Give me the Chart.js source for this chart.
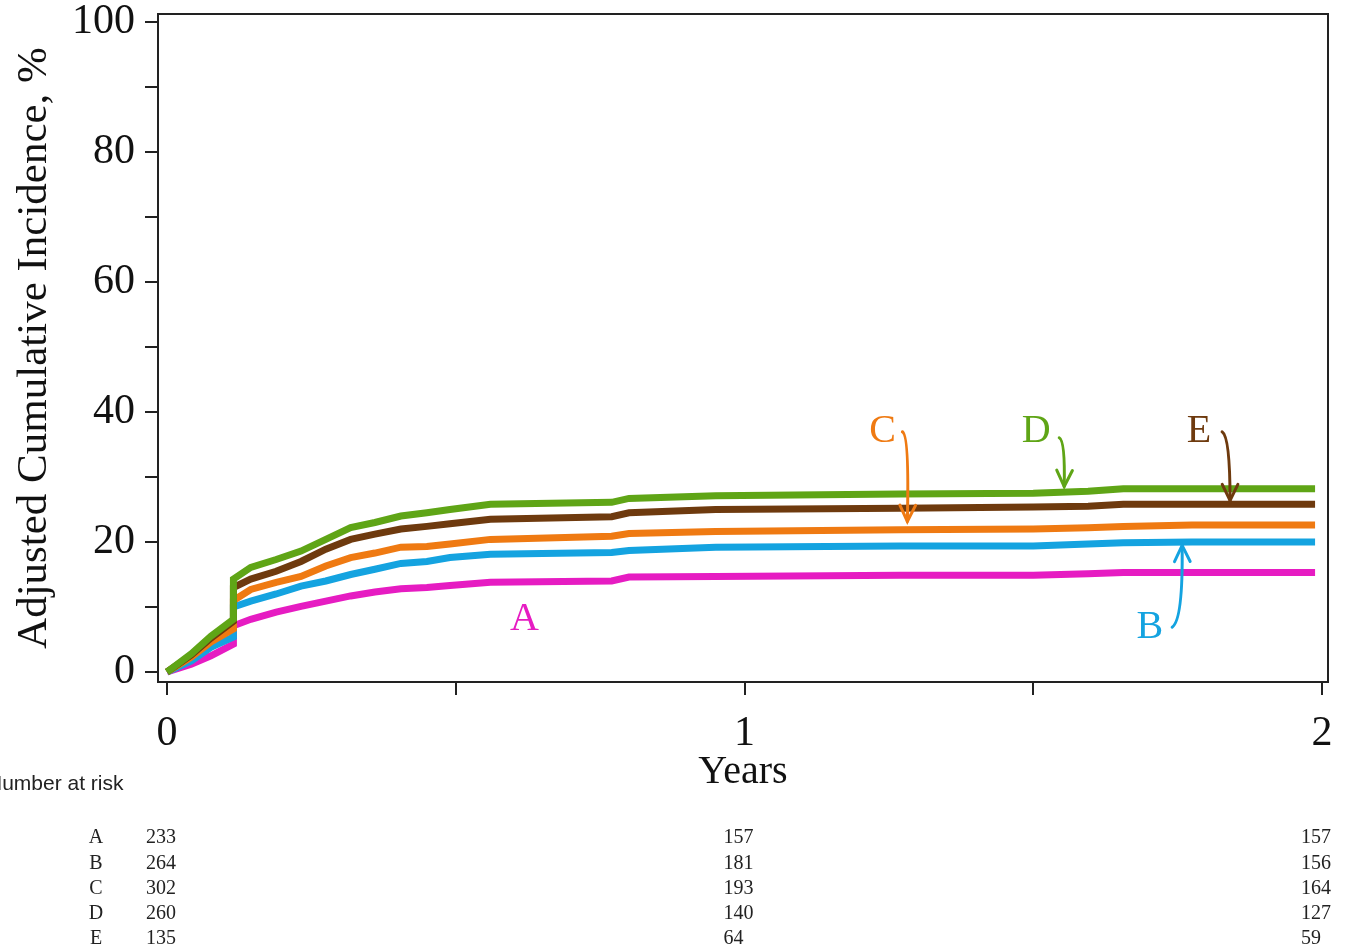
<!DOCTYPE html>
<html>
<head>
<meta charset="utf-8">
<script src="https://cdn.jsdelivr.net/npm/chart.js@4"></script>
<style>
  body { margin: 0; background: #fff; }
  canvas { display: block; }
</style>
</head>
<body>
<canvas id="myChart" width="1347" height="950"></canvas>
<script>
// Time points (years) shared by all curves
const years = [0, 0.042, 0.076, 0.115, 0.115, 0.145, 0.189, 0.232, 0.275, 0.318, 0.36, 0.405, 0.45, 0.49, 0.56, 0.77, 0.80, 0.95, 1.27, 1.50, 1.595, 1.656, 1.775, 1.988];

// Adjusted cumulative incidence, %
const seriesD = [0, 2.8, 5.5, 8.1, 14.3, 16.1, 17.3, 18.6, 20.4, 22.2, 23.0, 24.0, 24.5, 25.0, 25.8, 26.1, 26.7, 27.1, 27.4, 27.5, 27.8, 28.2, 28.2, 28.2];
const seriesE = [0, 2.6, 5.2, 7.8, 13.0, 14.3, 15.5, 17.0, 18.9, 20.4, 21.2, 22.0, 22.4, 22.8, 23.5, 23.9, 24.5, 25.0, 25.2, 25.4, 25.5, 25.8, 25.8, 25.8];
const seriesC = [0, 2.3, 4.6, 6.6, 11.0, 12.7, 13.8, 14.7, 16.3, 17.6, 18.3, 19.2, 19.3, 19.7, 20.4, 20.9, 21.3, 21.6, 21.9, 22.0, 22.2, 22.4, 22.6, 22.6];
const seriesB = [0, 1.7, 3.8, 5.4, 10.0, 10.9, 12.0, 13.2, 14.0, 15.0, 15.8, 16.7, 17.0, 17.6, 18.1, 18.4, 18.7, 19.2, 19.4, 19.4, 19.7, 19.9, 20.0, 20.0];
const seriesA = [0, 1.2, 2.5, 4.3, 7.1, 8.1, 9.2, 10.1, 10.9, 11.7, 12.3, 12.8, 13.0, 13.3, 13.8, 14.0, 14.6, 14.7, 14.9, 14.9, 15.1, 15.3, 15.3, 15.3];

const xTicks = [0, 0.5, 1, 1.5, 2];
const yTicks = [0, 10, 20, 30, 40, 50, 60, 70, 80, 90, 100];

// Curve labels (data coordinates)
const labelNames = ["A", "B", "C", "D", "E"];
const labelYears = [0.619, 1.702, 1.239, 1.505, 1.787];
const labelValues = [8.1, 6.9, 37.0, 37.0, 37.0];

// Arrows: start, bend, tip (data coordinates); null = no arrow
const arrowStart = [null, [1.7405, 6.9], [1.2734, 36.96], [1.545, 36.04], [1.827, 36.96]];
const arrowBend = [null, [1.7595, 7.98], [1.2855, 36.5], [1.5554, 35.58], [1.8408, 36.2]];
const arrowTip = [null, [1.7578, 19.48], [1.282, 23.16], [1.5536, 28.53], [1.8408, 26.38]];

// Number at risk
const riskYears = [0, 1, 2];
const riskA = [233, 157, 157];
const riskB = [264, 181, 156];
const riskC = [302, 193, 164];
const riskD = [260, 140, 127];
const riskE = [135, 64, 59];

const colors = { A: "#e61cc2", B: "#14a3e0", C: "#ef7a12", D: "#5fa516", E: "#6e3a0e" };

const toPoints = (vals) => vals.map((v, i) => ({ x: years[i], y: v }));

const serif = "'Liberation Serif', 'Times New Roman', serif";

const boxAndNotes = {
  id: "boxAndNotes",
  afterDraw(chart) {
    const { ctx, chartArea: a, scales } = chart;
    const x = scales.x, y = scales.y;
    ctx.save();
    ctx.strokeStyle = "#222";
    ctx.lineWidth = 2;
    ctx.strokeRect(a.left, a.top, a.right - a.left, a.bottom - a.top);

    // curve labels and arrows
    ctx.font = "40px " + serif;
    ctx.textAlign = "center";
    ctx.textBaseline = "middle";
    labelNames.forEach((name, i) => {
      const c = colors[name];
      ctx.fillStyle = c;
      ctx.fillText(name, x.getPixelForValue(labelYears[i]), y.getPixelForValue(labelValues[i]));
      if (!arrowStart[i]) return;
      const s = [x.getPixelForValue(arrowStart[i][0]), y.getPixelForValue(arrowStart[i][1])];
      const b = [x.getPixelForValue(arrowBend[i][0]), y.getPixelForValue(arrowBend[i][1])];
      const t = [x.getPixelForValue(arrowTip[i][0]), y.getPixelForValue(arrowTip[i][1])];
      ctx.strokeStyle = c;
      ctx.lineWidth = 3;
      ctx.lineCap = "round";
      ctx.beginPath();
      ctx.moveTo(s[0], s[1]);
      ctx.quadraticCurveTo(b[0], b[1], t[0], t[1]);
      ctx.stroke();
      const ang = Math.atan2(t[1] - b[1], t[0] - b[0]);
      const len = 18;
      ctx.beginPath();
      ctx.moveTo(t[0] - len * Math.cos(ang - 0.45), t[1] - len * Math.sin(ang - 0.45));
      ctx.lineTo(t[0], t[1]);
      ctx.lineTo(t[0] - len * Math.cos(ang + 0.45), t[1] - len * Math.sin(ang + 0.45));
      ctx.stroke();
    });

    // number at risk table
    ctx.fillStyle = "#222";
    ctx.textAlign = "left";
    ctx.font = "21px 'Liberation Sans', Arial, sans-serif";
    ctx.fillText("Number at risk", -13, 784);
    const rows = [riskA, riskB, riskC, riskD, riskE];
    ctx.font = "20px " + serif;
    rows.forEach((row, r) => {
      const yy = 838 + r * 25.3;
      ctx.textAlign = "center";
      ctx.fillText(labelNames[r], 96, yy);
      ctx.textAlign = "left";
      row.forEach((n, k) => {
        ctx.fillText(String(n), x.getPixelForValue(riskYears[k]) - 21, yy);
      });
    });
    ctx.restore();
  },
};

const ctx = document.getElementById("myChart");

new Chart(ctx, {
  type: "line",
  data: {
    datasets: [
      { label: "D", data: toPoints(seriesD), borderColor: colors.D },
      { label: "E", data: toPoints(seriesE), borderColor: colors.E },
      { label: "C", data: toPoints(seriesC), borderColor: colors.C },
      { label: "B", data: toPoints(seriesB), borderColor: colors.B },
      { label: "A", data: toPoints(seriesA), borderColor: colors.A },
    ],
  },
  options: {
    responsive: false,
    animation: false,
    devicePixelRatio: 1,
    layout: { padding: { left: 0, top: 14, right: 19, bottom: 154 } },
    elements: {
      line: { borderWidth: 7, tension: 0, fill: false },
      point: { radius: 0 },
    },
    scales: {
      x: {
        type: "linear",
        min: -0.0156,
        max: 2.0104,
        afterBuildTicks: (scale) => { scale.ticks = xTicks.map((v) => ({ value: v })); },
        afterFit: (scale) => { scale.height = 114; scale.paddingLeft = 0; scale.paddingRight = 0; },
        grid: { drawOnChartArea: false, drawTicks: true, tickLength: 13, color: "#222", lineWidth: 2 },
        border: { display: true, color: "#222", width: 2 },
        ticks: {
          autoSkip: false,
          maxRotation: 0,
          padding: 14,
          color: "#111",
          font: { family: serif, size: 42 },
          callback: (v) => (v % 1 === 0 ? String(v) : ""),
        },
        title: { display: true, text: "Years", color: "#111", font: { family: serif, size: 40 }, padding: { top: 0, bottom: 0 } },
      },
      y: {
        min: -1.54,
        max: 101.23,
        afterBuildTicks: (scale) => { scale.ticks = yTicks.map((v) => ({ value: v })); },
        afterFit: (scale) => { scale.width = 158; scale.paddingTop = 0; scale.paddingBottom = 0; },
        grid: { drawOnChartArea: false, drawTicks: true, tickLength: 13, color: "#222", lineWidth: 2 },
        border: { display: true, color: "#222", width: 2 },
        ticks: {
          autoSkip: false,
          padding: 10,
          color: "#111",
          font: { family: serif, size: 42 },
          callback: (v) => (v % 20 === 0 ? String(v) : ""),
        },
        title: { display: true, text: "Adjusted Cumulative Incidence, %", color: "#111", font: { family: serif, size: 43 }, padding: { top: 9, bottom: 0 } },
      },
    },
    plugins: { legend: { display: false }, tooltip: { enabled: false } },
  },
  plugins: [boxAndNotes],
});
</script>
</body>
</html>
